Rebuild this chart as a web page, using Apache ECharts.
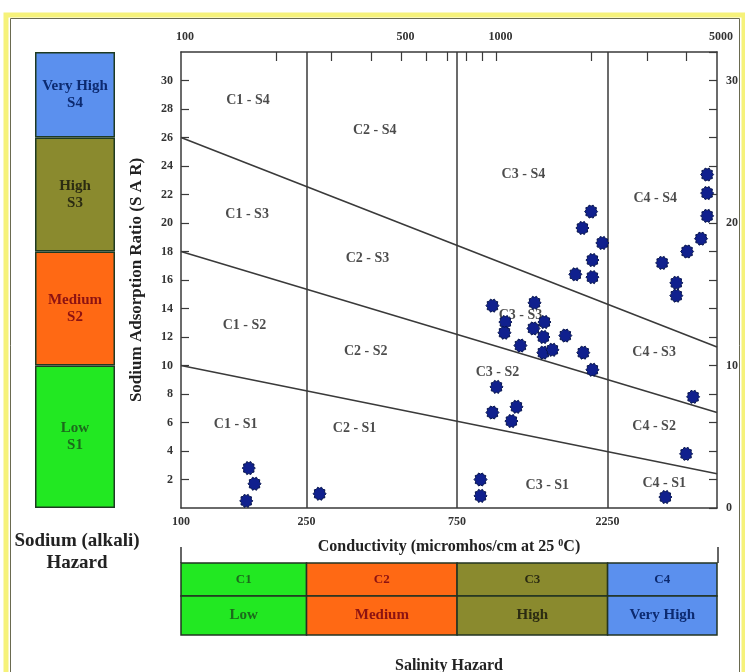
<!DOCTYPE html>
<html>
<head>
<meta charset="utf-8">
<script src="https://cdn.jsdelivr.net/npm/echarts@6/dist/echarts.min.js"></script>
<style>
  html, body { margin: 0; padding: 0; background: #fff; }
  #chart { width: 745px; height: 672px; }
</style>
</head>
<body>
<div id="chart"></div>
<script>
// 样本点: 电导率 (micromhos/cm) 与 SAR
var ecValues = [164, 171, 161, 275, 890, 890, 1000, 971, 1157, 1115,
  971, 1067, 1060, 1320, 1310, 1419, 1408, 1191, 1408, 1504, 1653, 1884, 2014,
  1995, 1872, 2165, 2014, 1778, 2014,
  4652, 4652, 4652, 4450, 4020, 3350, 3715, 3715, 4200, 3990, 3430]
var sarValues = [2.8, 1.7, 0.5, 1.0, 2.0, 0.85, 8.5, 6.7, 7.1, 6.1,
  14.2, 13.05, 12.3, 14.4, 12.6, 13.05, 12.0, 11.4, 10.9, 11.1, 12.1, 10.9, 9.7,
  20.8, 19.65, 18.6, 17.4, 16.4, 16.2,
  23.4, 22.1, 20.5, 18.9, 18.0, 17.2, 15.8, 14.9, 7.8, 3.8, 0.77]

// 钠危害分界线 (100 -> 5000 处的 SAR)
var boundaryAt100 = [10, 18, 26]
var boundaryAt5000 = [2.4, 6.7, 11.3]

// 盐度分级
var salinityBounds = [100, 250, 750, 2250, 5000]
var salinityCodes = ['C1', 'C2', 'C3', 'C4']
var salinityNames = ['Low', 'Medium', 'High', 'Very High']

// 钠分级 (SAR 区间高度)
var sodiumSpans = [10, 8, 8, 6]
var sodiumNames = ['Low\nS1', 'Medium\nS2', 'High\nS3', 'Very High\nS4']

// 区域标签
var zoneNames = ['C1 - S4', 'C2 - S4', 'C3 - S4', 'C4 - S4',
  'C1 - S3', 'C2 - S3', 'C3 - S3', 'C4 - S3',
  'C1 - S2', 'C2 - S2', 'C3 - S2', 'C4 - S2',
  'C1 - S1', 'C2 - S1', 'C3 - S1', 'C4 - S1']
var zoneX = [163, 411, 1217, 3184, 162, 390, 1191, 3160, 159, 385, 1007, 3160, 149, 355, 1449, 3403]
var zoneY = [28.6, 26.5, 23.4, 21.75, 20.6, 17.5, 13.5, 10.9, 12.8, 11.0, 9.5, 5.7, 5.9, 5.6, 1.6, 1.7]

var topTicks = [200, 300, 400, 500, 600, 700, 800, 900, 1000, 2000, 3000, 4000]
var topLabels = [100, 500, 1000, 5000]
var bottomLabels = [100, 250, 750, 2250]

var zoneColors = ['#22e822', '#ff6914', '#8a8a2e', '#5b90ee']
var zoneTextColors = ['#1c6a1c', '#8c1212', '#2b2b12', '#0c2a70']

var serif = '"Liberation Serif", "DejaVu Serif", serif'

// 齿轮状标记
var gear = (function () {
  var pts = []
  var n = 20
  for (var i = 0; i < n; i++) {
    var r = i % 2 === 0 ? 1 : 0.8
    var a = Math.PI * 2 * i / n
    pts.push((50 + 50 * r * Math.cos(a)).toFixed(1) + ' ' + (50 + 50 * r * Math.sin(a)).toFixed(1))
  }
  return 'path://M' + pts.join(' L') + ' Z'
})()

var chart = echarts.init(document.getElementById('chart'), null, { renderer: 'canvas' })

var lineSeries = boundaryAt100.map(function (v, i) {
  return {
    type: 'line',
    xAxisIndex: 0,
    yAxisIndex: 0,
    symbol: 'none',
    silent: true,
    lineStyle: { color: '#3a3a3a', width: 1.6 },
    data: [[100, v], [5000, boundaryAt5000[i]]],
    z: 3
  }
})

var sodiumSeries = sodiumSpans.map(function (v, i) {
  return {
    type: 'bar',
    xAxisIndex: 2,
    yAxisIndex: 2,
    stack: 'na',
    barWidth: '100%',
    silent: true,
    data: [v],
    itemStyle: { color: zoneColors[i], borderColor: '#1e3a22', borderWidth: 1.5 },
    label: {
      show: true,
      position: 'inside',
      formatter: sodiumNames[i],
      color: zoneTextColors[i],
      fontFamily: serif,
      fontWeight: 'bold',
      fontSize: 15,
      lineHeight: 17
    }
  }
})

function salinityArea (names, fontSize) {
  return salinityCodes.map(function (c, i) {
    return [{
      xAxis: salinityBounds[i],
      name: names[i],
      itemStyle: { color: zoneColors[i], borderColor: '#223322', borderWidth: 1.5 },
      label: { color: zoneTextColors[i], fontSize: fontSize }
    }, { xAxis: salinityBounds[i + 1] }]
  })
}

var areaLabel = {
  show: true,
  position: 'inside',
  fontFamily: serif,
  fontWeight: 'bold'
}

var axisFont = { fontFamily: serif, fontWeight: 'bold', fontSize: 12, color: '#333' }
var plain = function (v) { return String(v) }

var option = {
  animation: false,
  backgroundColor: '#fff',
  grid: [
    { left: 181, top: 52, width: 536, height: 456 },
    { left: 35, top: 52, width: 80, height: 456 },
    { left: 181, top: 563, width: 536, height: 33 },
    { left: 181, top: 596, width: 536, height: 39 }
  ],
  xAxis: [
    {
      type: 'log', gridIndex: 0, min: 100, max: 5000, position: 'bottom',
      axisLine: { show: true, onZero: false, lineStyle: { color: '#3a3a3a', width: 1.5 } },
      axisTick: { show: false },
      splitLine: { show: false },
      axisLabel: Object.assign({ customValues: bottomLabels, margin: 8, formatter: plain }, axisFont)
    },
    {
      type: 'log', gridIndex: 0, min: 100, max: 5000, position: 'top',
      axisLine: { show: true, onZero: false, lineStyle: { color: '#3a3a3a', width: 1.5 } },
      axisTick: { show: true, inside: true, length: 9, customValues: topTicks, lineStyle: { color: '#3a3a3a', width: 1.2 } },
      splitLine: { show: false },
      axisLabel: Object.assign({ customValues: topLabels, margin: 9, formatter: plain, padding: [0, 0, 0, 8] }, axisFont)
    },
    { type: 'category', gridIndex: 1, data: [''], show: false },
    { type: 'log', gridIndex: 2, min: 100, max: 5000, show: false },
    { type: 'log', gridIndex: 3, min: 100, max: 5000, show: false }
  ],
  yAxis: [
    {
      type: 'value', gridIndex: 0, min: 0, max: 32, interval: 2,
      name: 'Sodium Adsorption Ratio (S A R)',
      nameLocation: 'middle',
      nameGap: 36,
      nameTextStyle: { fontFamily: serif, fontWeight: 'bold', fontSize: 17, color: '#222' },
      axisLine: { show: true, onZero: false, lineStyle: { color: '#3a3a3a', width: 1.5 } },
      axisTick: { show: true, inside: true, length: 8, lineStyle: { color: '#3a3a3a', width: 1.2 } },
      splitLine: { show: false },
      axisLabel: Object.assign({
        margin: 8,
        showMinLabel: false,
        showMaxLabel: false
      }, axisFont)
    },
    {
      type: 'value', gridIndex: 0, min: 0, max: 32, interval: 2, position: 'right',
      axisLine: { show: true, onZero: false, lineStyle: { color: '#3a3a3a', width: 1.5 } },
      axisTick: { show: true, inside: true, length: 8, lineStyle: { color: '#3a3a3a', width: 1.2 } },
      splitLine: { show: false },
      axisLabel: Object.assign({
        margin: 9,
        formatter: function (v) { return (v % 10 === 0 && v <= 30) ? String(v) : '' }
      }, axisFont)
    },
    { type: 'value', gridIndex: 1, min: 0, max: 32, show: false },
    { type: 'value', gridIndex: 2, min: 0, max: 1, show: false },
    { type: 'value', gridIndex: 3, min: 0, max: 1, show: false }
  ],
  graphic: [
    { type: 'rect', shape: { x: 6, y: 15, width: 738, height: 680 }, style: { fill: 'none', stroke: '#f6f27a', lineWidth: 5 }, silent: true },
    { type: 'rect', shape: { x: 10.5, y: 18.5, width: 729, height: 680 }, style: { fill: 'none', stroke: '#6a6a50', lineWidth: 1 }, silent: true },
    { type: 'line', shape: { x1: 181, y1: 547, x2: 181, y2: 563 }, style: { stroke: '#333', lineWidth: 1.5 }, silent: true },
    { type: 'line', shape: { x1: 718, y1: 547, x2: 718, y2: 563 }, style: { stroke: '#333', lineWidth: 1.5 }, silent: true },
    {
      type: 'text', x: 449, y: 547, silent: true,
      style: {
        text: 'Conductivity (micromhos/cm at 25 {s|0}C)',
        align: 'center', verticalAlign: 'middle',
        fontFamily: serif, fontWeight: 'bold', fontSize: 16, fill: '#222',
        rich: { s: { fontFamily: serif, fontWeight: 'bold', fontSize: 10, fill: '#222', padding: [0, 0, 8, 0] } }
      }
    },
    {
      type: 'text', x: 77, y: 552, silent: true,
      style: {
        text: 'Sodium (alkali)\nHazard', align: 'center', verticalAlign: 'middle',
        fontFamily: serif, fontWeight: 'bold', fontSize: 19, lineHeight: 22, fill: '#222'
      }
    },
    {
      type: 'text', x: 449, y: 666, silent: true,
      style: {
        text: 'Salinity Hazard', align: 'center', verticalAlign: 'middle',
        fontFamily: serif, fontWeight: 'bold', fontSize: 16, fill: '#222'
      }
    }
  ],
  series: [
    {
      type: 'scatter',
      xAxisIndex: 0,
      yAxisIndex: 0,
      symbolSize: 0,
      silent: true,
      z: 2,
      data: zoneNames.map(function (n, i) { return { name: n, value: [zoneX[i], zoneY[i]] } }),
      label: {
        show: true, position: 'inside', formatter: '{b}',
        fontFamily: serif, fontWeight: 'bold', fontSize: 14, color: '#1e1e1e'
      },
      markLine: {
        silent: true,
        symbol: 'none',
        label: { show: false },
        lineStyle: { color: '#3a3a3a', width: 1.5, type: 'solid' },
        data: salinityBounds.slice(1, 4).map(function (b) { return { xAxis: b } })
      }
    }
  ].concat(lineSeries).concat([
    {
      type: 'scatter',
      xAxisIndex: 0,
      yAxisIndex: 0,
      symbol: gear,
      symbolSize: 13,
      z: 5,
      itemStyle: { color: '#10208e', borderColor: '#081650', borderWidth: 1, opacity: 1 },
      data: ecValues.map(function (x, i) { return [x, sarValues[i]] })
    }
  ]).concat(sodiumSeries).concat([
    {
      type: 'scatter', xAxisIndex: 3, yAxisIndex: 3, data: [], silent: true,
      markArea: { silent: true, label: Object.assign({}, areaLabel), data: salinityArea(salinityCodes, 13) }
    },
    {
      type: 'scatter', xAxisIndex: 4, yAxisIndex: 4, data: [], silent: true,
      markArea: { silent: true, label: Object.assign({}, areaLabel), data: salinityArea(salinityNames, 15) }
    }
  ])
}

chart.setOption(option)
</script>
</body>
</html>
